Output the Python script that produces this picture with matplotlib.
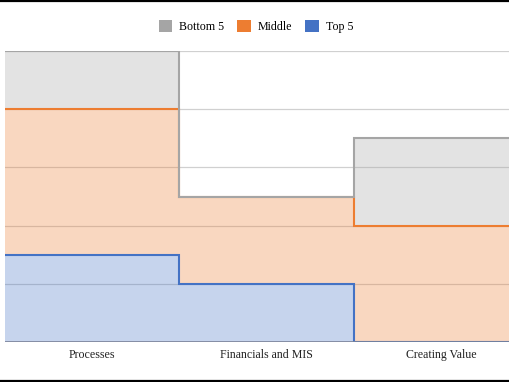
import matplotlib
matplotlib.use("Agg")
import matplotlib.pyplot as plt
from matplotlib.lines import Line2D
from matplotlib.patches import Patch
import numpy as np

# Stacked stepped-area values, bottom series first
categories = ["Processes", "Financials and MIS", "Creating Value"]
series_names = ["Top 5", "Middle", "Bottom 5"]
top5 = [1.5, 1.0, 0.0]
middle = [2.5, 1.5, 2.0]
bottom5 = [1.0, 0.0, 1.5]

COLORS = {"Bottom 5": "#a5a5a5", "Middle": "#ed7d31", "Top 5": "#4472c4"}
FONT = "Liberation Serif"

fig = plt.figure(figsize=(5.10, 3.82), dpi=100)
W, H = 510, 382
# plot area runs past the right edge of the screenshot
left, right, top, bottom = 5, 528.5, 51, 342
ax = fig.add_axes([left / W, 1 - bottom / H, (right - left) / W, (bottom - top) / H])

x = np.arange(len(categories) + 1)
base = np.zeros(len(categories))
series = {"Top 5": top5, "Middle": middle, "Bottom 5": bottom5}
for z, name in enumerate(series_names):
    vals = np.array(series[name], dtype=float)
    lo = base
    hi = base + vals
    lo_s = np.append(lo, lo[-1])
    hi_s = np.append(hi, hi[-1])
    ax.fill_between(x, lo_s, hi_s, step="post", color=COLORS[name],
                    alpha=0.3, linewidth=0, zorder=2)
    ax.step(x, hi_s, where="post", color=COLORS[name], linewidth=1.5,
            zorder=3 + z, solid_joinstyle="miter")
    base = hi

for yv in range(0, 6):
    ax.axhline(yv, color="#d0d0d0", linewidth=0.9, zorder=1)
ax.axhline(0, color="#7a8299", linewidth=1.2, zorder=6)

ax.set_xlim(0, 3)
ax.set_ylim(0, 5)
ax.set_xticks(x[:-1] + 0.5)
ax.set_xticklabels(categories, fontfamily=FONT, fontsize=8.6, color="#222222")
ax.tick_params(axis="x", length=0, pad=5)
ax.set_yticks([])
for s in ax.spines.values():
    s.set_visible(False)

handles = [Patch(facecolor=COLORS[n], edgecolor="none") for n in ["Bottom 5", "Middle", "Top 5"]]
fig.legend(handles, ["Bottom 5", "Middle", "Top 5"], loc="center",
           bbox_to_anchor=(256 / W, 1 - 26.5 / H), ncol=3, frameon=False,
           handlelength=1.15, handleheight=1.15, handletextpad=0.6, columnspacing=1.05,
           prop={"family": FONT, "size": 8.6})

# black screenshot border lines top and bottom
fig.add_artist(Line2D([0, 1], [1 - 1 / H, 1 - 1 / H], color="black", linewidth=1.6, transform=fig.transFigure))
fig.add_artist(Line2D([0, 1], [1 / H, 1 / H], color="black", linewidth=1.6, transform=fig.transFigure))

fig.savefig("out.png", dpi=100)
